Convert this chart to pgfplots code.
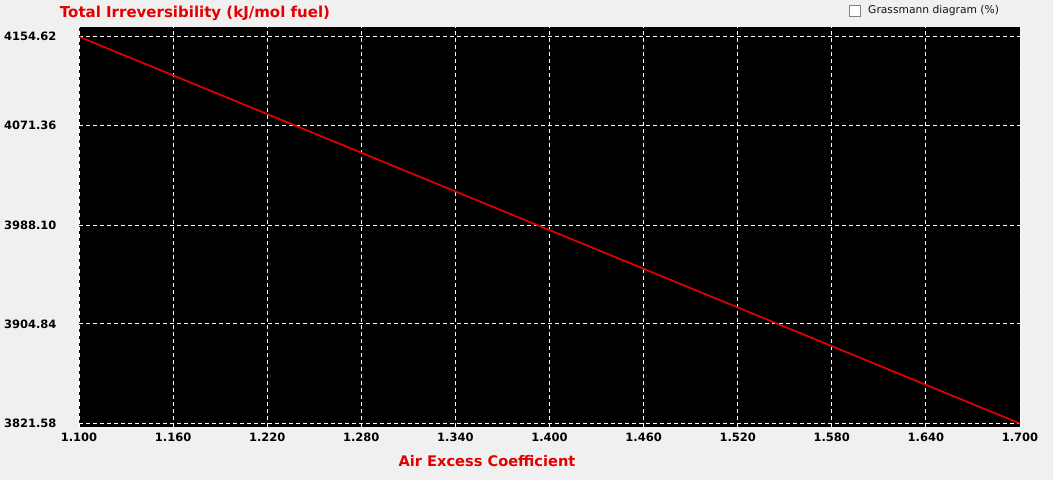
\documentclass[border=0pt]{standalone}
\usepackage{pgfplots}
\pgfplotsset{compat=1.18}
\usepackage{fontspec}
\setmainfont{DejaVu Sans}
\definecolor{bg}{RGB}{240,240,240}
\definecolor{tred}{RGB}{228,0,0}
\begin{document}
\begin{tikzpicture}[x=1pt,y=1pt]
\fill[bg] (0,0) rectangle (1053,480);
\begin{axis}[
  at={(79pt,53pt)}, anchor=south west,
  scale only axis, width=941pt, height=400pt,
  xmin=1.1, xmax=1.7, ymin=3818.56, ymax=4162.98,
  axis background/.style={fill=black},
  axis line style={draw=none},
  xtick={1.1,1.16,1.22,1.28,1.34,1.40,1.46,1.52,1.58,1.64,1.70},
  xticklabels={1.100,1.160,1.220,1.280,1.340,1.400,1.460,1.520,1.580,1.640,1.700},
  ytick={3821.58,3907.3,3992.0,4077.9,4154.62},
  yticklabels={3821.58,3904.84,3988.10,4071.36,4154.62},
  major tick length=0pt,
  grid=major,
  major grid style={white, line width=0.9pt, dash pattern=on 4pt off 3pt},
  ticklabel style={font=\bfseries\fontsize{11.5}{13}\selectfont, text=black},
  yticklabel style={anchor=east, xshift=-19pt},
  xticklabel style={yshift=-2pt},
  clip=true,
]
\addplot[tred, line width=1.7pt] coordinates {(1.1,4154.62) (1.7,3821.58)};
\end{axis}
\node[text=tred, font=\bfseries\fontsize{15}{17}\selectfont] at (195,467) {Total Irreversibility (kJ/mol fuel)};
\node[text=tred, font=\bfseries\fontsize{14.6}{16}\selectfont] at (487,19) {Air Excess Coefficient};
\draw[draw={rgb,255:red,130;green,130;blue,130}, fill=white, line width=0.8pt] (849,464) rectangle (860,475);
\node[anchor=west, inner sep=0pt, font=\fontsize{10.7}{12}\selectfont, text={rgb,255:red,20;green,20;blue,20}] at (868,469.5) {Grassmann diagram (\%)};
\end{tikzpicture}
\end{document}
